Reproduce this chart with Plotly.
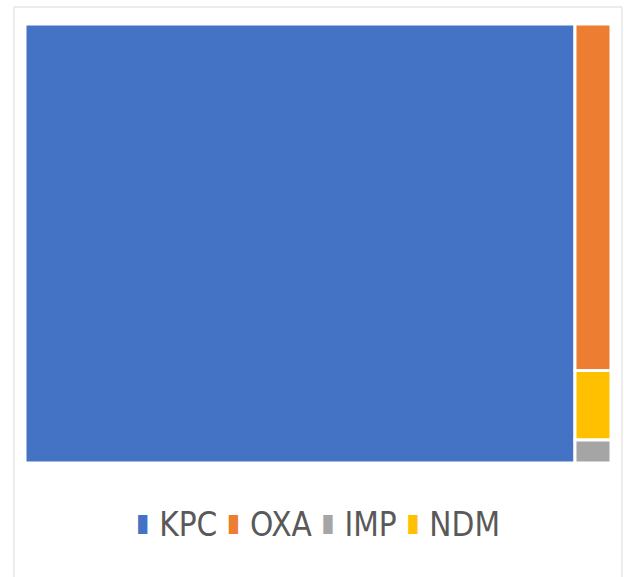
import plotly.graph_objects as go

labels = ["KPC", "OXA", "NDM", "IMP"]
values = [290, 15, 3, 1]
colors = ["#4472C4", "#ED7D31", "#FFC000", "#A5A5A5"]
legend_order = ["KPC", "OXA", "IMP", "NDM"]

W, H = 624, 577
color_of = dict(zip(labels, colors))

fig = go.Figure(go.Treemap(
    labels=labels,
    parents=[""] * len(labels),
    values=values,
    marker=dict(colors=colors, line=dict(color="white", width=3),
                pad=dict(t=0, l=0, r=0, b=0)),
    textinfo="none",
    sort=True,
    tiling=dict(packing="squarify", pad=0),
    pathbar=dict(visible=False),
    domain=dict(x=[25 / W, 611 / W], y=[1 - 463 / H, 1 - 24 / H]),
))

parts = []
for lab in legend_order:
    parts.append(
        f"<span style='color:{color_of[lab]};font-size:25px;font-family:DejaVu Sans;baseline-shift:5px'>▮</span> {lab}"
    )
legend_text = " ".join(parts)

fig.add_annotation(
    x=0.51, y=1 - 524 / H, xref="paper", yref="paper",
    xanchor="center", yanchor="middle", showarrow=False,
    text=legend_text,
    font=dict(family="DejaVu Sans Condensed, Liberation Sans, sans-serif", size=33, color="#595959"),
)

fig.add_shape(
    type="rect", xref="paper", yref="paper",
    x0=14 / W, x1=622 / W, y0=-0.02, y1=1 - 7 / H,
    line=dict(color="#D9D9D9", width=1), fillcolor="rgba(0,0,0,0)",
)

fig.update_layout(
    width=W, height=H,
    margin=dict(l=0, r=0, t=0, b=0),
    paper_bgcolor="white",
    plot_bgcolor="white",
    showlegend=False,
)

fig.write_html("out.html")
